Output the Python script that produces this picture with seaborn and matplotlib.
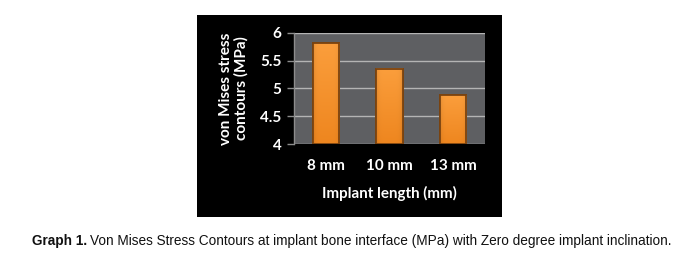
import matplotlib
matplotlib.use("Agg")
import matplotlib.pyplot as plt
import seaborn as sns
import pandas as pd
import numpy as np
from matplotlib.patches import Rectangle
from matplotlib.colors import to_rgb

categories = ["8 mm", "10 mm", "13 mm"]
stress_values = [5.81, 5.35, 4.88]
y_ticks = [4, 4.5, 5, 5.5, 6]
y_tick_labels = ["4", "4.5", "5", "5.5", "6"]

sns.set_theme(style="white")
plt.rcParams['font.family'] = ['Lato', 'DejaVu Sans']

df = pd.DataFrame({"length": categories, "stress": stress_values})

fig = plt.figure(figsize=(6.73, 2.59), dpi=100)
fig.patch.set_facecolor("white")

# black chart panel
fig.patches.append(Rectangle((197/673, 1-217/259), 305/673, 202/259,
                             transform=fig.transFigure, facecolor="black",
                             edgecolor="none", zorder=-10))

ax = fig.add_axes([294/673, 1-144/259, 191/673, 111.3/259])
ax.set_zorder(5)
ax.set_facecolor("#5e5f62")
sns.barplot(data=df, x="length", y="stress", ax=ax, color="#F7922A",
            width=0.41, saturation=1, edgecolor="#7a4310", linewidth=1.3)
ymin, ymax = 4, 6
ax.set_ylim(ymin, ymax)
ax.set_yticks(y_ticks)
ax.set_yticklabels(y_tick_labels)
ax.yaxis.grid(True, color="#b4b4b4", linewidth=1)
ax.set_axisbelow(True)
for s in ax.spines.values():
    s.set_visible(False)
ax.spines["left"].set_visible(True)
ax.spines["left"].set_color("#8c8c8c")
ax.spines["left"].set_linewidth(1)

# subtle gradient shading inside bars
top_c = np.array(to_rgb("#FB9E3C"))
bot_c = np.array(to_rgb("#EE861F"))
n = 64
v = np.linspace(0, 1, n)[:, None]
h = np.linspace(-1, 1, n)[None, :]
base = top_c[None, None, :] * (1 - v[..., None]) + bot_c[None, None, :] * v[..., None]
edge_dark = 1 - 0.10 * (np.abs(h) ** 6)[..., None]
grad = np.clip(base * edge_dark, 0, 1)
for p in list(ax.patches):
    x0, y0 = p.get_x(), p.get_y()
    w, hh = p.get_width(), p.get_height()
    top = y0 + hh
    bottom = max(y0, ymin)
    ax.imshow(grad, extent=[x0, x0 + w, bottom, top], origin="upper",
              aspect="auto", zorder=p.get_zorder() + 0.1, interpolation="bilinear")
    ax.add_patch(Rectangle((x0, bottom), w, top - bottom, facecolor="none", edgecolor="#7a4310",
                           linewidth=1.3, zorder=p.get_zorder() + 0.2))
ax.set_xlim(-0.5, len(categories) - 0.5)
ax.set_ylim(ymin, ymax)

ax.tick_params(axis="both", colors="white", labelsize=11)
ax.tick_params(axis="y", length=5, width=1, color="#8c8c8c", pad=4, left=True)
ax.tick_params(axis="x", length=0, pad=11)
for lab in ax.get_xticklabels() + ax.get_yticklabels():
    lab.set_fontweight("bold")
ax.set_xlabel("Implant length (mm)", color="white", fontsize=10.9,
              fontweight="bold", labelpad=9)
ax.set_ylabel("von Mises stress\ncontours (MPa)", color="white", fontsize=11,
              fontweight="bold", labelpad=8, linespacing=1.15)

# caption
cap_y = 1 - 244.5/259
fam = ['Liberation Sans', 'DejaVu Sans']
x_start, x_end = 31.5, 671.0
fs = 9.2
t1 = fig.text(x_start/673, cap_y, "Graph 1.", fontsize=fs, fontweight="bold",
              color="#111111", family=fam, va="baseline")
t2 = fig.text(0, cap_y, "Von Mises Stress Contours at implant bone interface (MPa) with Zero degree implant inclination.",
              fontsize=fs, color="#111111", family=fam, va="baseline")
for _ in range(3):
    fig.canvas.draw()
    r = fig.canvas.get_renderer()
    b1 = t1.get_window_extent(renderer=r)
    t2.set_x((b1.x1 + 3) / fig.bbox.width)
    fig.canvas.draw()
    b2 = t2.get_window_extent(renderer=r)
    total = b2.x1 - b1.x0
    fs = fs * (x_end - x_start) / total
    t1.set_fontsize(fs)
    t2.set_fontsize(fs)
fig.canvas.draw()
r = fig.canvas.get_renderer()
b1 = t1.get_window_extent(renderer=r)
t2.set_x((b1.x1 + 3) / fig.bbox.width)

fig.savefig("out.png", dpi=100)
